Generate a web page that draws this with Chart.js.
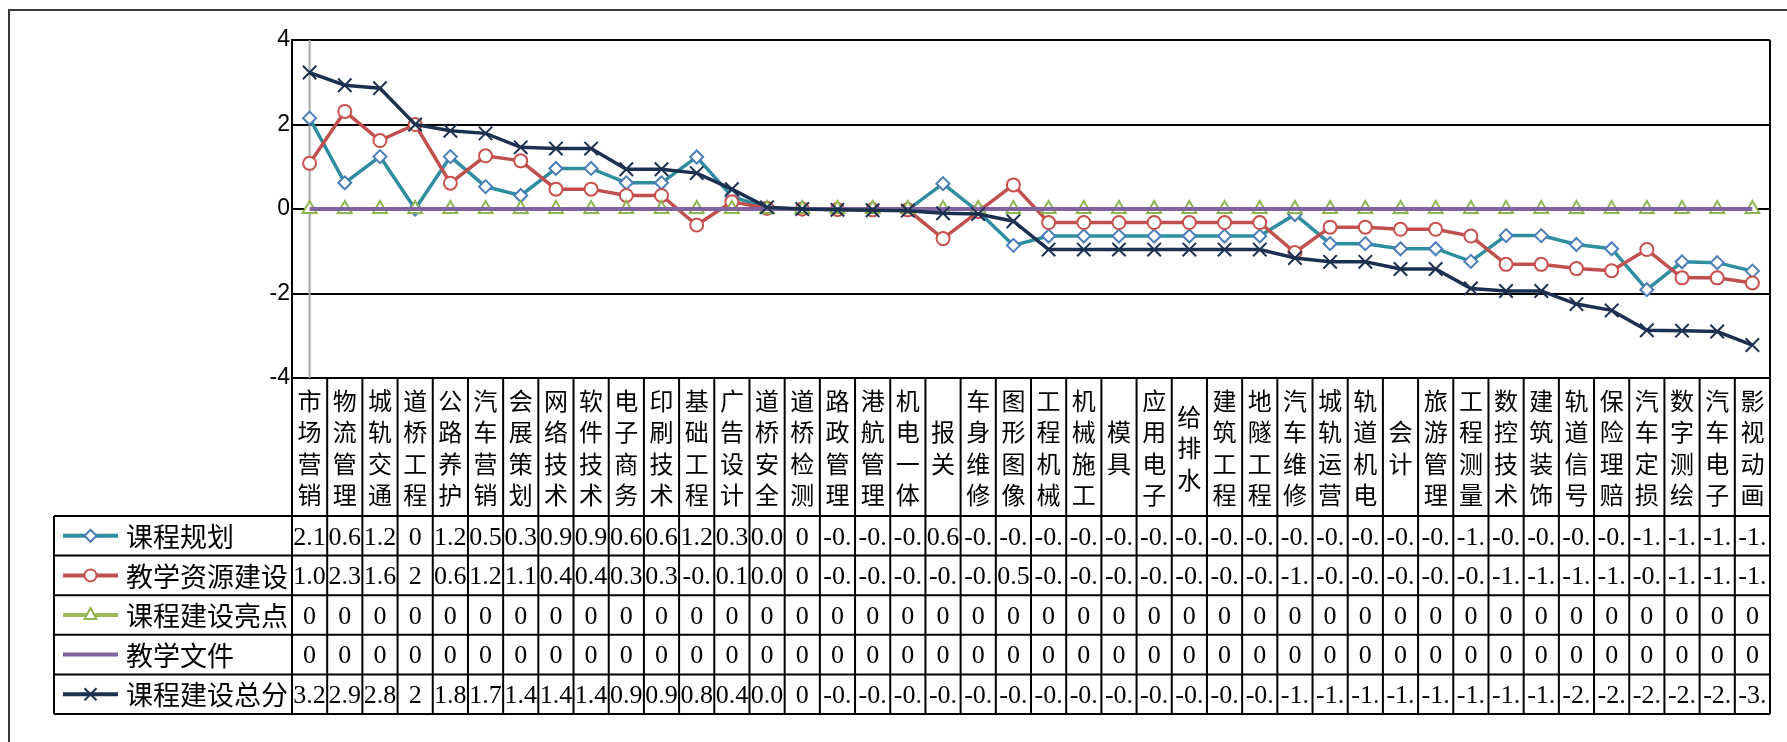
<!DOCTYPE html>
<html>
<head>
<meta charset="utf-8">
<script src="https://cdn.jsdelivr.net/npm/chart.js@4.4.0/dist/chart.umd.min.js"></script>
<style>
  body { margin: 0; background: #fff; }
  canvas { display: block; }
</style>
</head>
<body>
<canvas id="myChart" width="1787" height="742"></canvas>
<script>
var categories = ['市场营销','物流管理','城轨交通','道桥工程','公路养护','汽车营销','会展策划','网络技术','软件技术','电子商务',
  '印刷技术','基础工程','广告设计','道桥安全','道桥检测','路政管理','港航管理','机电一体','报关','车身维修',
  '图形图像','工程机械','机械施工','模具','应用电子','给排水','建筑工程','地隧工程','汽车维修','城轨运营',
  '轨道机电','会计','旅游管理','工程测量','数控技术','建筑装饰','轨道信号','保险理赔','汽车定损','数字测绘',
  '汽车电子','影视动画'];

var seriesNames = ['课程规划', '教学资源建设', '课程建设亮点', '教学文件', '课程建设总分'];

var planning = [2.15,0.62,1.24,0,1.24,0.53,0.32,0.96,0.96,0.62,
  0.62,1.23,0.3,0.02,0,-0.01,-0.01,-0.02,0.6,-0.06,
  -0.86,-0.64,-0.64,-0.64,-0.64,-0.64,-0.64,-0.64,-0.13,-0.82,
  -0.82,-0.94,-0.94,-1.24,-0.63,-0.63,-0.84,-0.94,-1.91,-1.25,
  -1.27,-1.47];

var resources = [1.08,2.31,1.62,2,0.61,1.26,1.14,0.47,0.47,0.32,
  0.32,-0.38,0.17,0.02,0,-0.01,-0.02,-0.02,-0.7,-0.06,
  0.57,-0.32,-0.32,-0.32,-0.32,-0.32,-0.32,-0.32,-1.03,-0.43,
  -0.43,-0.48,-0.48,-0.64,-1.31,-1.31,-1.41,-1.46,-0.96,-1.63,
  -1.63,-1.75];

var highlights = [0,0,0,0,0,0,0,0,0,0,
  0,0,0,0,0,0,0,0,0,0,
  0,0,0,0,0,0,0,0,0,0,
  0,0,0,0,0,0,0,0,0,0,
  0,0];

var documents = [0,0,0,0,0,0,0,0,0,0,
  0,0,0,0,0,0,0,0,0,0,
  0,0,0,0,0,0,0,0,0,0,
  0,0,0,0,0,0,0,0,0,0,
  0,0];

var total = [3.23,2.93,2.86,2,1.85,1.79,1.46,1.43,1.43,0.94,
  0.94,0.85,0.47,0.04,0,-0.02,-0.03,-0.04,-0.1,-0.12,
  -0.29,-0.96,-0.96,-0.96,-0.96,-0.96,-0.96,-0.96,-1.16,-1.25,
  -1.25,-1.42,-1.42,-1.88,-1.94,-1.94,-2.25,-2.4,-2.87,-2.88,
  -2.9,-3.22];

var yTicks = [-4, -2, 0, 2, 4];

// series look: line colour, marker colour, marker shape
var looks = [
  { line: '#2F8DA0', mark: '#4A7EBB', shape: 'diamond' },
  { line: '#C0504D', mark: '#C8504D', shape: 'circle' },
  { line: '#9BBB59', mark: '#8FB34F', shape: 'triangle' },
  { line: '#8064A2', mark: '#8064A2', shape: 'none' },
  { line: '#1C3150', mark: '#1C3150', shape: 'x' }
];
var allSeries = [planning, resources, highlights, documents, total];

var CJK = '"Noto Sans CJK SC", sans-serif';
var SERIF = '"Liberation Serif", serif';

function cellText(v) {
  return String(v).slice(0, 3);
}

function marker(ctx, shape, x, y, color) {
  ctx.save();
  ctx.strokeStyle = color;
  ctx.fillStyle = '#fff';
  ctx.lineWidth = 2;
  ctx.beginPath();
  if (shape === 'diamond') {
    ctx.moveTo(x, y - 6); ctx.lineTo(x + 6, y); ctx.lineTo(x, y + 6); ctx.lineTo(x - 6, y); ctx.closePath();
    ctx.fill(); ctx.stroke();
  } else if (shape === 'circle') {
    ctx.arc(x, y, 6, 0, Math.PI * 2); ctx.fill(); ctx.stroke();
  } else if (shape === 'triangle') {
    ctx.moveTo(x, y - 7); ctx.lineTo(x + 6, y + 4); ctx.lineTo(x - 6, y + 4); ctx.closePath();
    ctx.fill(); ctx.stroke();
  } else if (shape === 'x') {
    ctx.moveTo(x - 6, y - 6); ctx.lineTo(x + 6, y + 6);
    ctx.moveTo(x + 6, y - 6); ctx.lineTo(x - 6, y + 6);
    ctx.stroke();
  }
  ctx.restore();
}

var tablePlugin = {
  id: 'dataTable',
  beforeDraw: function(chart) {
    var ctx = chart.ctx;
    ctx.save();
    ctx.fillStyle = '#fff';
    ctx.fillRect(0, 0, chart.width, chart.height);
    ctx.strokeStyle = '#3a3a3a';
    ctx.lineWidth = 2;
    ctx.strokeRect(9, 10, chart.width + 20, chart.height + 20);
    ctx.restore();
  },
  beforeDatasetsDraw: function(chart) {
    var ctx = chart.ctx, a = chart.chartArea;
    var x0 = chart.scales.x.getPixelForValue(0);
    ctx.save();
    ctx.strokeStyle = '#a6a6a6';
    ctx.lineWidth = 2;
    ctx.beginPath();
    ctx.moveTo(x0, a.top); ctx.lineTo(x0, a.bottom);
    ctx.stroke();
    ctx.restore();
  },
  afterDraw: function(chart) {
    var ctx = chart.ctx, a = chart.chartArea, xs = chart.scales.x;
    var n = categories.length;
    var w = (a.right - a.left) / n;
    var headTop = a.bottom, headBottom = a.bottom + 138;
    var rowH = 39.6;
    var tableBottom = headBottom + rowH * seriesNames.length;
    var legLeft = 54;

    ctx.save();
    ctx.strokeStyle = '#000';
    ctx.lineWidth = 2;
    ctx.beginPath();
    // right border of plot
    ctx.moveTo(a.right, a.top); ctx.lineTo(a.right, a.bottom);
    // column lines
    for (var k = 0; k <= n; k++) {
      var cx = a.left + k * w;
      ctx.moveTo(cx, headTop); ctx.lineTo(cx, tableBottom);
    }
    ctx.moveTo(legLeft, headBottom); ctx.lineTo(legLeft, tableBottom);
    for (var r = 0; r <= seriesNames.length; r++) {
      var ry = headBottom + r * rowH;
      ctx.moveTo(legLeft, ry); ctx.lineTo(a.right, ry);
    }
    ctx.stroke();

    // header: vertical category names
    ctx.fillStyle = '#000';
    ctx.textAlign = 'center';
    ctx.textBaseline = 'middle';
    ctx.font = '24px ' + CJK;
    var midY = (headTop + headBottom) / 2;
    categories.forEach(function(name, i) {
      var px = xs.getPixelForValue(i);
      var chars = name.split('');
      chars.forEach(function(ch, j) {
        ctx.fillText(ch, px, midY + (j - (chars.length - 1) / 2) * 31.5 + 1);
      });
    });

    // rows
    seriesNames.forEach(function(name, r) {
      var cy = headBottom + r * rowH + rowH / 2;
      var lk = looks[r];
      ctx.save();
      ctx.strokeStyle = lk.line;
      ctx.lineWidth = 4;
      ctx.beginPath();
      ctx.moveTo(63, cy); ctx.lineTo(118, cy);
      ctx.stroke();
      ctx.restore();
      marker(ctx, lk.shape, 90.5, cy, lk.mark);

      ctx.textAlign = 'left';
      ctx.font = '27px ' + CJK;
      ctx.fillText(name, 126, cy + 1);

      ctx.textAlign = 'center';
      ctx.font = '26px ' + SERIF;
      allSeries[r].forEach(function(v, i) {
        ctx.fillText(cellText(v), xs.getPixelForValue(i), cy + 2);
      });
    });
    ctx.restore();
  }
};

function ds(label, data, lk, order) {
  var style = { diamond: 'rectRot', circle: 'circle', triangle: 'triangle', x: 'crossRot', none: false }[lk.shape];
  var radius = { diamond: 6.5, circle: 6.5, triangle: 8, x: 9.5, none: 0 }[lk.shape];
  return {
    label: label,
    data: data,
    borderColor: lk.line,
    borderWidth: lk.shape === 'none' ? 4 : 3.5,
    pointStyle: style,
    pointRadius: radius,
    pointBorderColor: lk.mark,
    pointBackgroundColor: lk.shape === 'x' ? lk.mark : '#fff',
    pointBorderWidth: 2,
    tension: 0,
    order: order
  };
}

function createChart() {
  var ctx = document.getElementById('myChart').getContext('2d');
  new Chart(ctx, {
    type: 'line',
    data: {
      labels: categories,
      datasets: [
        ds(seriesNames[0], planning, looks[0], 4),
        ds(seriesNames[1], resources, looks[1], 3),
        ds(seriesNames[2], highlights, looks[2], 2),
        ds(seriesNames[3], documents, looks[3], 1),
        ds(seriesNames[4], total, looks[4], 0)
      ]
    },
    options: {
      responsive: false,
      animation: false,
      layout: { padding: { left: 0, top: 40, right: 17, bottom: 364 } },
      plugins: { legend: { display: false }, tooltip: { enabled: false } },
      scales: {
        x: { display: false, offset: true },
        y: {
          min: yTicks[0],
          max: yTicks[yTicks.length - 1],
          afterFit: function(scale) { scale.width = 292; },
          afterBuildTicks: function(scale) {
            scale.ticks = yTicks.map(function(v) { return { value: v }; });
          },
          grid: { color: '#000', lineWidth: 2, drawTicks: false },
          border: { display: true, color: '#000', width: 2 },
          ticks: { padding: 2, color: '#000', font: { family: 'Liberation Sans', size: 23 } }
        }
      }
    },
    plugins: [tablePlugin]
  });
}

Promise.all([
  document.fonts.load('24px "Noto Sans CJK SC"'),
  document.fonts.load('26px "Liberation Serif"'),
  document.fonts.load('23px "Liberation Sans"')
]).then(createChart, createChart);
</script>
</body>
</html>
